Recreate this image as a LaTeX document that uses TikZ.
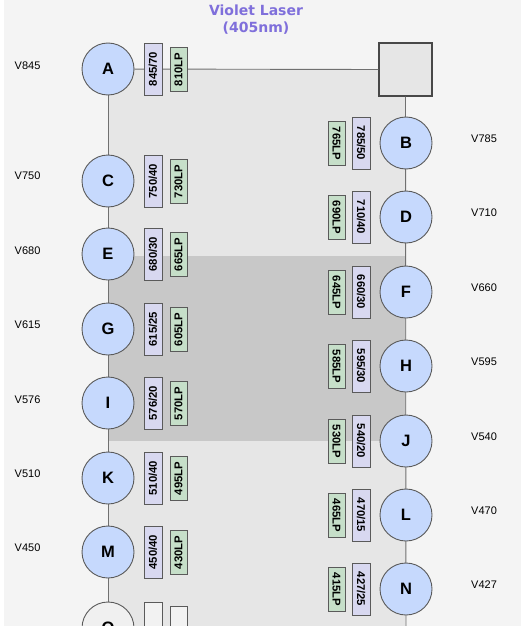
\documentclass[tikz,border=0pt]{standalone}
\usepackage{fontspec}
\setmainfont{Liberation Sans}
\newfontfamily\titlefont{DejaVu Sans}
\definecolor{panel}{HTML}{F4F4F4}
\definecolor{zonelight}{HTML}{E6E6E6}
\definecolor{zonedark}{HTML}{C8C8C8}
\definecolor{pmtfill}{HTML}{C6D9FD}
\definecolor{bpfill}{HTML}{D8D8F0}
\definecolor{lpfill}{HTML}{C6DFC9}
\definecolor{edge}{HTML}{5A5A5A}
\definecolor{wire}{HTML}{707070}
\definecolor{titlecol}{HTML}{7F6FDB}
\tikzset{
  pmt/.style={circle, draw=edge, line width=0.9pt, fill=pmtfill, minimum size=52pt, inner sep=0pt,
    font=\fontsize{16.5}{16.5}\selectfont\bfseries},
  pmtblank/.style={pmt, fill=zonelight!60!white},
  bp/.style={draw=edge, line width=0.9pt, fill=bpfill, minimum width=52pt, minimum height=18pt, inner sep=0pt,
    font=\fontsize{11.3}{11.3}\selectfont\bfseries},
  lp/.style={draw=edge, line width=0.9pt, fill=lpfill, minimum width=44pt, minimum height=17pt, inner sep=0pt,
    font=\fontsize{11.3}{11.3}\selectfont\bfseries},
  blankf/.style={fill=zonelight!50!white},
  chan/.style={font=\fontsize{11}{11}\selectfont, inner sep=0pt},
  wirel/.style={draw=wire, line width=0.9pt},
}
\begin{document}
\begin{tikzpicture}[x=1pt, y=-1pt]
\useasboundingbox (0,0) rectangle (525,626);
\fill[white] (0,0) rectangle (525,626);
\fill[panel] (4,0) rectangle (521,626);
% shaded light-path zones
\fill[zonelight] (108,69) rectangle (406,626);
\fill[zonedark] (108,256) rectangle (406,441);

% title
\node[font=\titlefont\fontsize{14}{17}\selectfont\bfseries, text=titlecol, align=center] (title) at (256,19.5) {Violet Laser\\(405nm)};

% laser entry box
\node[draw=edge!80!black, line width=1.4pt, fill=zonelight, minimum size=53pt, inner sep=0pt] (src) at (405.5,69.5) {};

% detector positions
\coordinate (A) at (108,69);
\coordinate (C) at (108,181);
\coordinate (E) at (108,254);
\coordinate (G) at (108,329);
\coordinate (I) at (108,403);
\coordinate (K) at (108,478);
\coordinate (M) at (108,552);
\coordinate (O) at (108,628);
\coordinate (B) at (406,143);
\coordinate (D) at (406,217);
\coordinate (F) at (406,292);
\coordinate (H) at (406,366);
\coordinate (J) at (406,441);
\coordinate (L) at (406,515);
\coordinate (N) at (406,589);
\coordinate (bottomR) at (406,640);

% light paths
\draw[wirel] (A) -- (src.west);
\draw[wirel] (A) -- (O);
\draw[wirel] (src.south) -- (bottomR);

% left column filters
\foreach \n/\y/\bpt/\lpt in {a/69/845\slash 70/810LP, c/181/750\slash 40/730LP, e/254/680\slash 30/665LP,
    g/329/615\slash 25/605LP, i/403/576\slash 20/570LP, k/478/510\slash 40/495LP, m/552/450\slash 40/430LP}{
  \node[bp, rotate=90] (bp\n) at (153,\y) {\bpt};
  \node[lp, rotate=90] (lp\n) at (178.5,\y+0.5) {\lpt};
}
\node[bp, blankf, rotate=90] (bpo) at (153,628) {};
\node[lp, blankf, rotate=90] (lpo) at (178.5,628.5) {};

% right column filters
\foreach \n/\y/\bpt/\lpt in {b/143/785\slash 50/765LP, d/217/710\slash 40/690LP, f/292/660\slash 30/645LP,
    h/366/595\slash 30/585LP, j/441/540\slash 20/530LP, l/515/470\slash 15/465LP, n/589/427\slash 25/415LP}{
  \node[bp, rotate=-90] (bp\n) at (361,\y) {\bpt};
  \node[lp, rotate=-90] (lp\n) at (336.5,\y+0.5) {\lpt};
}

% detectors
\foreach \p in {A,C,E,G,I,K,M,B,D,F,H,J,L,N}{
  \node[pmt] (pmt\p) at (\p) {\p};
}
\node[pmtblank] (pmtO) at (O) {O};

% channel names
\foreach \n/\y/\t in {a/66/V845, c/176/V750, e/251/V680, g/325/V615, i/400/V576, k/474/V510, m/548/V450}{
  \node[chan, anchor=west] (ch\n) at (14.5,\y) {\t};
}
\foreach \n/\y/\t in {b/139/V785, d/213/V710, f/288/V660, h/362/V595, j/437/V540, l/511/V470, n/585/V427}{
  \node[chan, anchor=west] (ch\n) at (471,\y) {\t};
}
\end{tikzpicture}
\end{document}
